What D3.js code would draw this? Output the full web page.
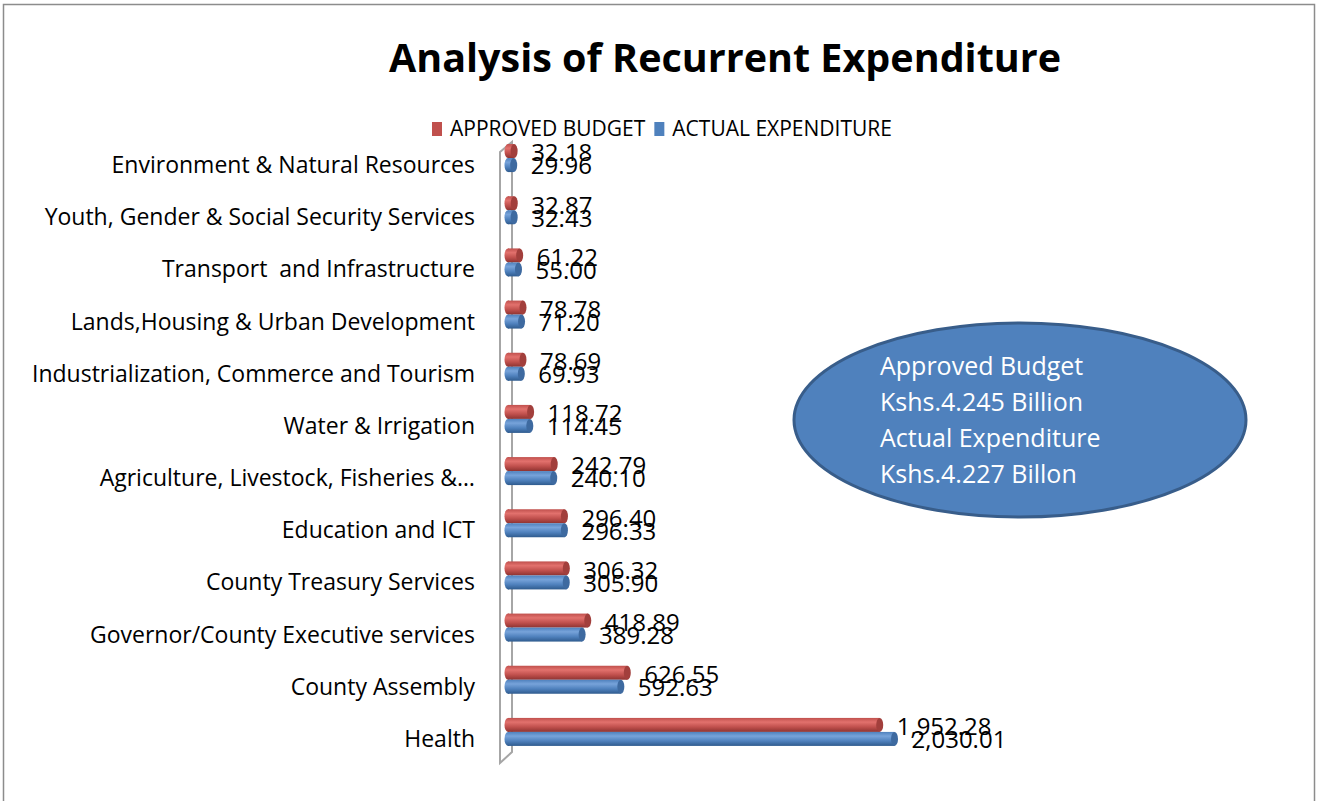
<!DOCTYPE html>
<html>
<head>
<meta charset="utf-8">
<script src="https://cdn.jsdelivr.net/npm/d3@7"></script>
<style>
  html, body { margin: 0; padding: 0; background: #fff; }
  svg text { font-family: "Open Sans", "Noto Sans", sans-serif; white-space: pre; }
</style>
</head>
<body>
<svg id="chart" width="1318" height="801"></svg>
<script>
// categories, top to bottom as in the chart
var categories = [
  "Environment & Natural Resources",
  "Youth, Gender & Social Security Services",
  "Transport  and Infrastructure",
  "Lands,Housing & Urban Development",
  "Industrialization, Commerce and Tourism",
  "Water & Irrigation",
  "Agriculture, Livestock, Fisheries &\u2026",
  "Education and ICT",
  "County Treasury Services",
  "Governor/County Executive services",
  "County Assembly",
  "Health"
];
var approvedBudget = [32.18, 32.87, 61.22, 78.78, 78.69, 118.72, 242.79, 296.40, 306.32, 418.89, 626.55, 1952.28];
var actualExpenditure = [29.96, 32.43, 55.00, 71.20, 69.93, 114.45, 240.10, 296.33, 305.90, 389.28, 592.63, 2030.01];
var seriesNames = ["APPROVED BUDGET", "ACTUAL EXPENDITURE"];
var noteLines = ["Approved Budget", "Kshs.4.245 Billion", "Actual Expenditure", "Kshs.4.227 Billon"];

var svg = d3.select("#chart");
var fmt = d3.format(",.2f");

// gradients for the cylinder look
var defs = svg.append("defs");
function grad(id, top, mid, bot) {
  var g = defs.append("linearGradient").attr("id", id)
    .attr("x1", 0).attr("y1", 0).attr("x2", 0).attr("y2", 1);
  g.append("stop").attr("offset", "0%").attr("stop-color", mid);
  g.append("stop").attr("offset", "30%").attr("stop-color", top);
  g.append("stop").attr("offset", "65%").attr("stop-color", mid);
  g.append("stop").attr("offset", "100%").attr("stop-color", bot);
}
grad("gRed", "#e2716d", "#c0504d", "#8e3331");
grad("gBlue", "#77a3da", "#4f81bd", "#2f5b8e");
var capColor = ["#a23f3c", "#3e6aa0"];
var fills = ["url(#gRed)", "url(#gBlue)"];
var legendColors = ["#c0504d", "#4f81bd"];

// outer frame
svg.append("rect")
  .attr("x", 3.5).attr("y", 4.5).attr("width", 1311).attr("height", 820)
  .attr("fill", "none").attr("stroke", "#8c8c8c").attr("stroke-width", 1.5);

// title
svg.append("text")
  .attr("x", 725).attr("y", 72)
  .attr("text-anchor", "middle")
  .attr("font-size", 39.5).attr("font-weight", "bold")
  .text("Analysis of Recurrent Expenditure");

// legend
var lg = svg.append("g").attr("transform", "translate(432,129)");
var lx = 0;
seriesNames.forEach(function(name, i) {
  lg.append("rect").attr("x", lx).attr("y", -7).attr("width", 10).attr("height", 14)
    .attr("fill", legendColors[i]);
  var t = lg.append("text").attr("x", lx + 18).attr("y", 0).attr("dy", "0.35em")
    .attr("font-size", 21).text(name);
  lx += 18 + t.node().getComputedTextLength() + 9;
});

// scales
var y = d3.scaleBand().domain(categories).range([132, 758]);
var x = d3.scaleLinear().domain([0, 2500]).range([508, 984]);
var barH = 14;

// axis wall
var wall = svg.append("g").attr("stroke", "#a6a6a6").attr("stroke-width", 2).attr("fill", "none");
wall.append("path").attr("d", "M500,152 L512,142 L512,752 L500,763 Z");

// category labels
svg.append("g").selectAll("text")
  .data(categories)
  .join("text")
  .attr("x", 475)
  .attr("y", function(d) { return y(d) + y.bandwidth() / 2 + 7; })
  .attr("dy", "0.35em")
  .attr("text-anchor", "end")
  .attr("font-size", 23)
  .text(function(d) { return d; });

// bars
var series = [approvedBudget, actualExpenditure];
series.forEach(function(vals, s) {
  var g = svg.append("g");
  var rows = g.selectAll("g").data(vals).join("g");
  rows.each(function(v, i) {
    var c = y(categories[i]) + y.bandwidth() / 2;
    var top = s === 0 ? c - barH : c;
    var r = d3.select(this);
    r.append("ellipse")
      .attr("cx", x(0)).attr("cy", top + barH / 2)
      .attr("rx", 3.5).attr("ry", barH / 2)
      .attr("fill", fills[s]);
    r.append("rect")
      .attr("x", x(0)).attr("y", top)
      .attr("width", x(v) - x(0)).attr("height", barH)
      .attr("fill", fills[s]);
    r.append("ellipse")
      .attr("cx", x(v)).attr("cy", top + barH / 2)
      .attr("rx", 3.5).attr("ry", barH / 2)
      .attr("fill", capColor[s]);
  });
});

// value labels
series.forEach(function(vals, s) {
  svg.append("g").selectAll("text")
    .data(vals)
    .join("text")
    .attr("x", function(v) { return x(v) + 17; })
    .attr("y", function(v, i) {
      var c = y(categories[i]) + y.bandwidth() / 2;
      return s === 0 ? c - 5 : c + 8;
    })
    .attr("dy", "0.35em")
    .attr("font-size", 24)
    .text(function(v) { return fmt(v); });
});

// note ellipse
svg.append("ellipse")
  .attr("cx", 1020).attr("cy", 420).attr("rx", 226).attr("ry", 97)
  .attr("fill", "#4f81bd").attr("stroke", "#385d8a").attr("stroke-width", 3);
svg.append("g").selectAll("text")
  .data(noteLines)
  .join("text")
  .attr("x", 880)
  .attr("y", function(d, i) { return 366 + i * 36; })
  .attr("dy", "0.35em")
  .attr("fill", "#fff")
  .attr("font-size", 25)
  .text(function(d) { return d; });
</script>
</body>
</html>
